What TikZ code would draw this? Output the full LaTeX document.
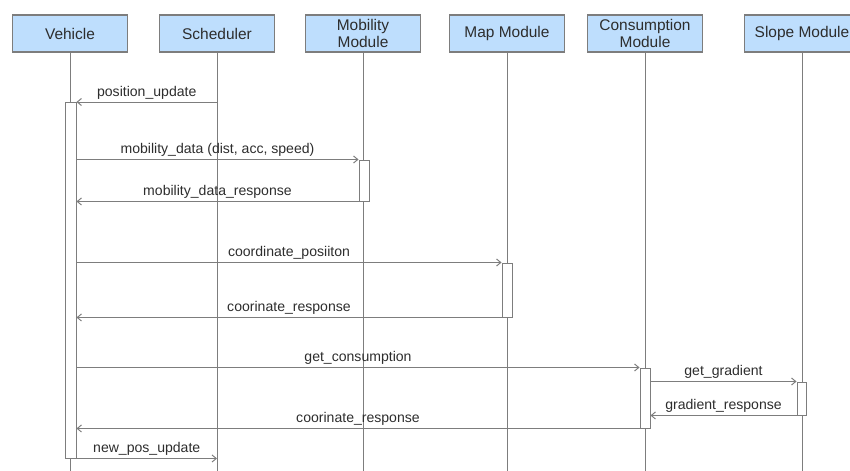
\documentclass[tikz,border=0pt]{standalone}
\usepackage{fontspec}
\setmainfont{Liberation Sans}
\usetikzlibrary{arrows.meta, positioning, fit}
\definecolor{headfill}{RGB}{190, 222, 253}
\definecolor{linegray}{RGB}{125, 125, 125}
\definecolor{textgray}{RGB}{45, 45, 45}

\begin{document}
\begin{tikzpicture}[x=0.025cm, y=-0.025cm,
    obj/.style={rectangle, draw=linegray, fill=headfill, line width=0.8pt,
                minimum width=2.875cm, minimum height=0.925cm, inner sep=1pt,
                align=center, text=textgray, font=\fontsize{11}{11.5}\selectfont},
    act/.style={rectangle, draw=linegray, fill=white, line width=0.7pt, inner sep=0pt},
    life/.style={draw=linegray, line width=0.7pt},
    msg/.style={draw=linegray, line width=0.7pt, -{Straight Barb[length=3pt, width=5pt]}},
    lbl/.style={anchor=base, yshift=4pt, inner sep=0pt, text=textgray,
                font=\fontsize{10}{12}\selectfont}]

    \useasboundingbox (0,0) rectangle (850,471);
    \clip (0,0) rectangle (850,471);

    % Objects
    \node[obj] (veh) at (70, 33.5) {Vehicle};
    \node[obj] (sch) at (217, 33.5) {Scheduler};
    \node[obj] (mob) at (363, 33.5) {Mobility\\Module};
    \node[obj] (map) at (507, 33.5) {Map Module};
    \node[obj] (cons) at (645, 33.5) {Consumption\\Module};
    \node[obj] (slope) at (802, 33.5) {Slope Module};

    % Lifelines
    \coordinate (bottom) at (0, 471);
    \foreach \n in {veh, sch, mob, map, cons, slope}
        \draw[life] (\n.south) -- (\n.south |- bottom);

    % Activations
    \node[act, fit={(65,102) (76,458)}] (vehact) {};
    \node[act, fit={(359,160) (369,201)}] (mobact) {};
    \node[act, fit={(502,263) (512,317)}] (mapact) {};
    \node[act, fit={(640,368) (650,428)}] (consact) {};
    \node[act, fit={(797,382) (806,415)}] (slopeact) {};

    % Messages
    \coordinate (upd) at (217, 102);
    \draw[msg] (upd) -- node[lbl] {position\_update} (upd -| vehact.east);

    \draw[msg] (vehact.east |- mobact.north) -- node[lbl] {mobility\_data (dist, acc, speed)} (mobact.north west);
    \draw[msg] (mobact.south west) -- node[lbl] {mobility\_data\_response} (vehact.east |- mobact.south);

    \draw[msg] (vehact.east |- mapact.north) -- node[lbl] {coordinate\_posiiton} (mapact.north west);
    \draw[msg] (mapact.south west) -- node[lbl] {coorinate\_response} (vehact.east |- mapact.south);

    \draw[msg] (vehact.east |- consact.north) -- node[lbl] {get\_consumption} (consact.north west);
    \draw[msg] (consact.east |- slopeact.north) -- node[lbl] {get\_gradient} (slopeact.north west);
    \draw[msg] (slopeact.south west) -- node[lbl] {gradient\_response} (consact.east |- slopeact.south);
    \draw[msg] (consact.south west) -- node[lbl] {coorinate\_response} (vehact.east |- consact.south);

    \draw[msg] (vehact.south east) -- node[lbl] {new\_pos\_update} (sch.south |- vehact.south);
\end{tikzpicture}
\end{document}
